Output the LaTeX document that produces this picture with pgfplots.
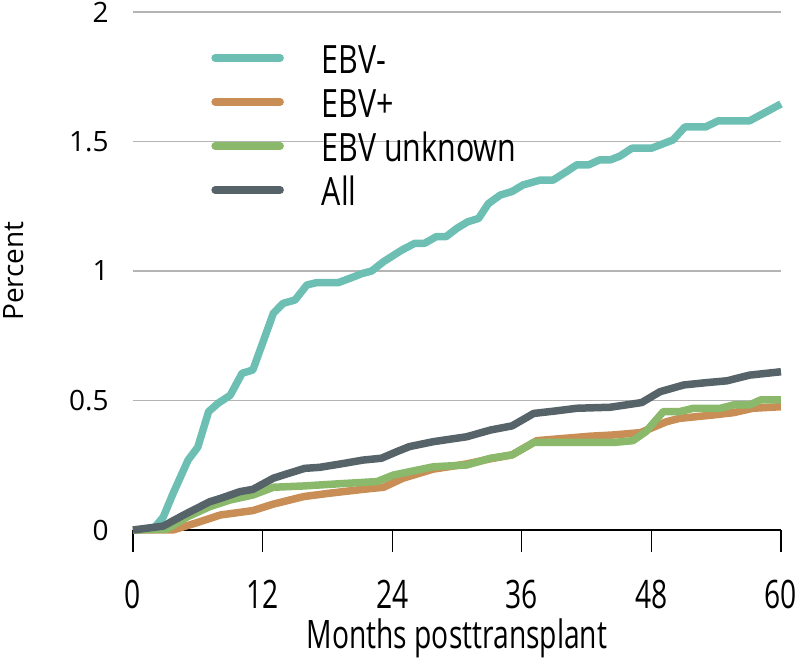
\documentclass[border=0pt]{standalone}
\usepackage{pgfplots}
\pgfplotsset{compat=1.18}
\usepackage{fontspec}
\setmainfont{Open Sans}
\newfontfamily\condfont{Open Sans}[FakeStretch=0.72]
\newfontfamily\legfont{Open Sans}[FakeStretch=0.78]
\definecolor{cteal}{HTML}{6DBFB4}
\definecolor{corange}{HTML}{C98E55}
\definecolor{cgreen}{HTML}{8AB96B}
\definecolor{cdark}{HTML}{56646A}
\definecolor{cgrid}{HTML}{B4B4B4}
\begin{document}
\begin{tikzpicture}
\path[use as bounding box] (-66.5pt,-64.5pt) rectangle (333.5pt,265pt);
\begin{axis}[
  at={(0pt,0pt)}, anchor=south west,
  scale only axis, width=324pt, height=259pt,
  xmin=0, xmax=60, ymin=0, ymax=2,
  clip=false,
  axis x line*=bottom, axis y line*=left,
  y axis line style={draw=none},
  x axis line style={black, line width=0.6pt, -},
  xtick={0,12,24,36,48,60},
  ytick={0,0.5,1,1.5,2},
  yticklabels={0,0.5,1,1.5,2},
  xticklabels={0,12,24,36,48,60},
  tick align=outside, major tick length=11pt,
  xtick style={black, line width=0.6pt},
  ytick style={draw=none},
  ymajorgrids, grid style={cgrid, line width=0.8pt},
  yticklabel style={font=\fontsize{14pt}{16pt}\selectfont, inner sep=1pt},
  xticklabel style={font=\condfont\fontsize{19.6pt}{22pt}\selectfont, inner sep=2pt, yshift=-12pt},
  xlabel={Months posttransplant},
  ylabel={Percent},
  xlabel style={font=\condfont\fontsize{19.6pt}{22pt}\selectfont, at={(axis description cs:0.5,-0.2085)}, anchor=center},
  ylabel style={font=\fontsize{14pt}{16pt}\selectfont, at={(axis description cs:-0.1836,0.5)}, anchor=center},
  legend cell align=left,
  legend style={at={(axis description cs:0.1142,0.936)}, anchor=north west, draw=none, fill=none,
    inner sep=0pt, row sep=8pt,
    font=\legfont\fontsize{19.5pt}{22pt}\selectfont,
    nodes={inner sep=0pt, text height=14pt, text depth=0pt}},
  legend image code/.code={\path (0pt,0pt) (53.5pt,0pt); \draw[#1, line cap=round] (2pt,0.8pt) -- (34.5pt,0.8pt);},
  every axis plot/.append style={line width=3.75pt, line join=round},
]
\addplot[cteal] coordinates {(0,0)(1.9,0.005)(2.8,0.05)(3.7,0.14)(5.1,0.27)(6.0,0.32)(7.0,0.457)(7.9,0.49)(9.0,0.52)(10.1,0.605)(11.1,0.618)(13.0,0.837)(13.9,0.875)(15.0,0.888)(16.1,0.946)(17.0,0.955)(19.0,0.955)(20.1,0.972)(21.2,0.99)(22.1,1.0)(23.2,1.036)(24.9,1.081)(26.1,1.107)(27.0,1.107)(28.1,1.133)(29.0,1.133)(30.0,1.165)(31.0,1.19)(32.0,1.203)(32.9,1.26)(34.0,1.293)(35.1,1.307)(36.1,1.332)(37.7,1.351)(38.9,1.351)(40.0,1.38)(41.1,1.41)(42.2,1.41)(43.2,1.429)(44.2,1.429)(45.1,1.444)(46.2,1.474)(48.0,1.474)(50.0,1.506)(51.1,1.556)(53.0,1.556)(54.2,1.58)(57.1,1.58)(60,1.645)};
\addlegendentry{EBV-}
\addplot[corange] coordinates {(0,0)(3.7,0)(5.9,0.028)(8.1,0.058)(11.1,0.075)(13.0,0.1)(15.8,0.129)(18.2,0.142)(21.3,0.157)(23.2,0.165)(25.0,0.2)(27.8,0.235)(30.9,0.255)(33.1,0.275)(35.1,0.29)(37.4,0.345)(42.3,0.362)(44.5,0.367)(47.0,0.376)(49.4,0.418)(50.6,0.431)(53.7,0.444)(55.6,0.453)(57.4,0.47)(60,0.476)};
\addlegendentry{EBV+}
\addplot[cgreen] coordinates {(0,0)(3.1,0.003)(5.0,0.05)(7.1,0.09)(9.0,0.116)(11.1,0.135)(13.0,0.165)(15.8,0.17)(18.9,0.178)(22.6,0.187)(24.1,0.212)(25.6,0.225)(27.8,0.244)(30.9,0.251)(33.1,0.277)(35.1,0.29)(37.1,0.338)(44.5,0.338)(46.3,0.345)(47.5,0.38)(49.1,0.457)(50.6,0.457)(51.9,0.47)(54.4,0.47)(55.6,0.483)(57.1,0.483)(58.1,0.502)(60,0.502)};
\addlegendentry{EBV unknown}
\addplot[cdark] coordinates {(0,0)(2.8,0.015)(4.7,0.058)(7.1,0.109)(8.1,0.122)(9.9,0.148)(11.1,0.157)(13.0,0.2)(14.2,0.216)(15.9,0.238)(17.3,0.242)(19.5,0.257)(21.3,0.27)(23.0,0.277)(24.4,0.302)(25.6,0.322)(27.8,0.341)(30.9,0.36)(33.1,0.386)(35.1,0.402)(37.1,0.45)(39.2,0.46)(41.1,0.47)(44.2,0.474)(47.1,0.492)(48.8,0.534)(51.0,0.56)(53.1,0.569)(55.0,0.576)(57.1,0.598)(60,0.611)};
\addlegendentry{All}
\end{axis}
\end{tikzpicture}
\end{document}
